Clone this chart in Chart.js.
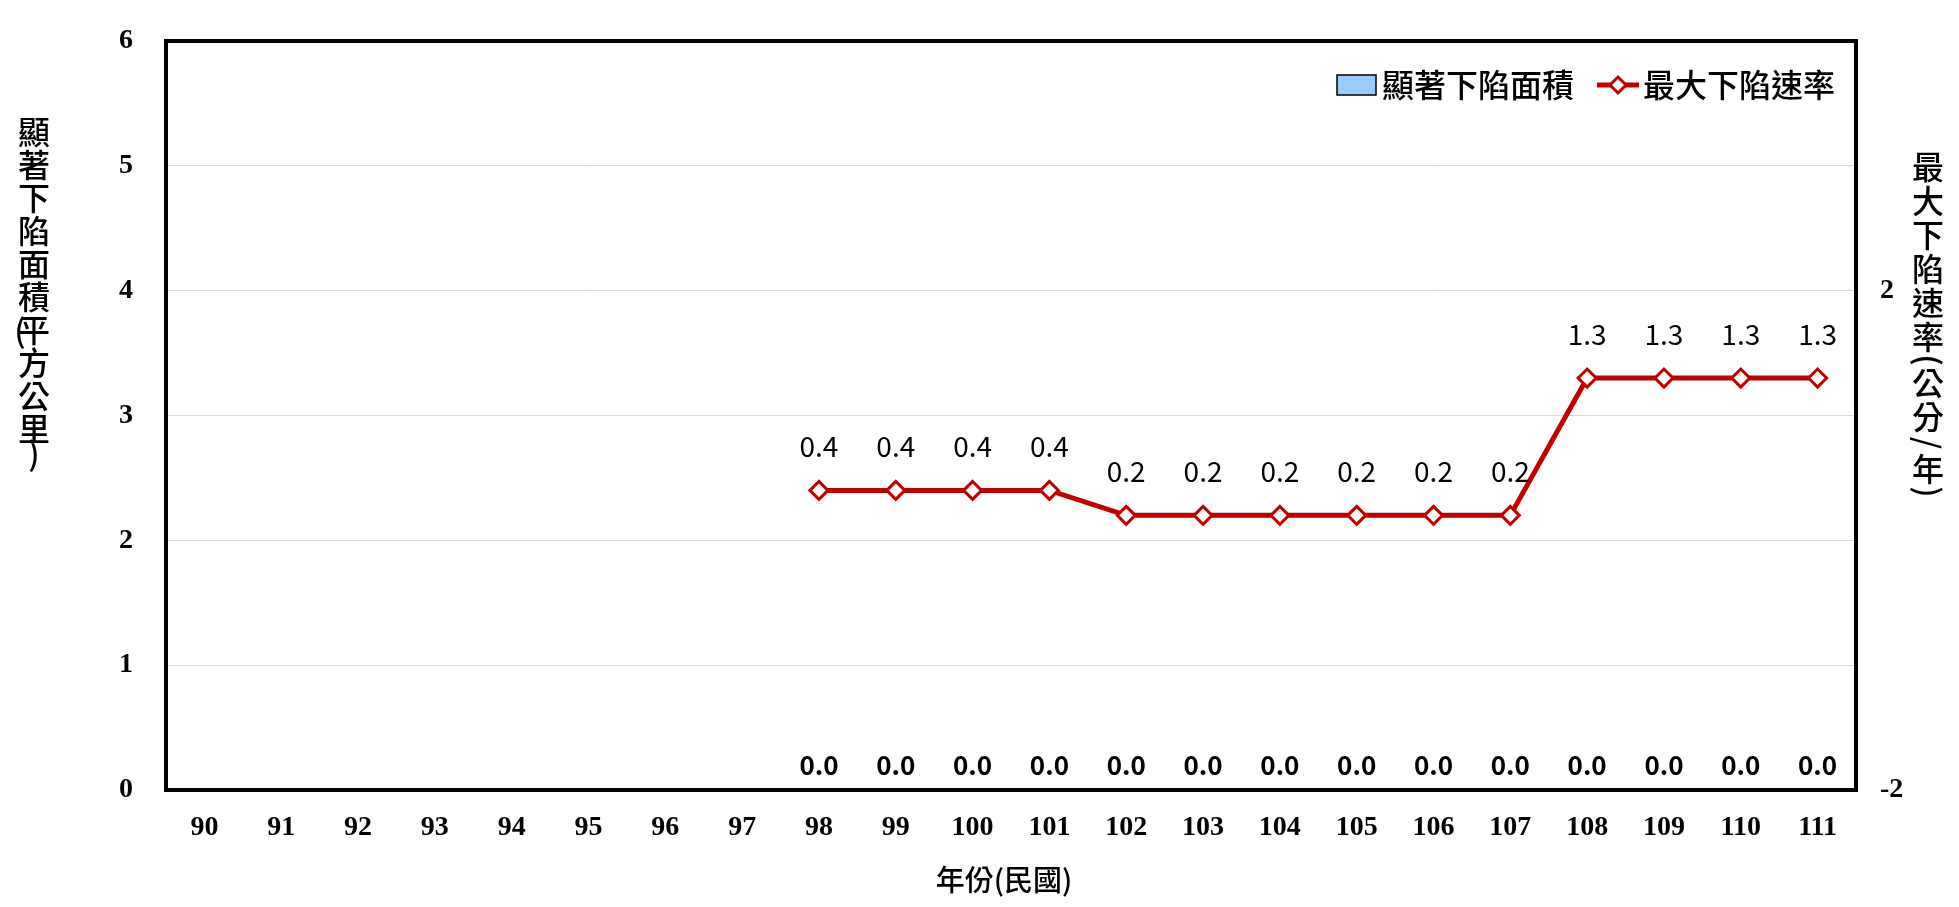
<!DOCTYPE html>
<html>
<head>
<meta charset="utf-8">
<script src="https://cdn.jsdelivr.net/npm/chart.js@4.4.1/dist/chart.umd.min.js"></script>
<style>
  body { margin: 0; background: #fff; }
</style>
</head>
<body>
<canvas id="subsidenceChart" width="1959" height="907"></canvas>
<script>
const years = ['90', '91', '92', '93', '94', '95', '96', '97', '98', '99', '100',
    '101', '102', '103', '104', '105', '106', '107', '108', '109', '110', '111'];
const areaValues = [null, null, null, null, null, null, null, null,
    0, 0, 0, 0, 0, 0, 0, 0, 0, 0, 0, 0, 0, 0];
const rateValues = [null, null, null, null, null, null, null, null,
    0.4, 0.4, 0.4, 0.4, 0.2, 0.2, 0.2, 0.2, 0.2, 0.2, 1.3, 1.3, 1.3, 1.3];
const rightTicks = [-2, 2];

const CJK = '"Noto Sans CJK TC", "Noto Sans CJK SC", sans-serif';
const RED = '#C00000';
const BLUE = '#99CCFF';

// draws characters stacked top to bottom; parts = [char, advance, rotated, dx, dy]
function drawVertical(ctx, x, top, parts, size) {
    ctx.save();
    ctx.font = '500 ' + size + 'px ' + CJK;
    ctx.fillStyle = '#000';
    ctx.textAlign = 'center';
    ctx.textBaseline = 'middle';
    let y = top;
    parts.forEach(([ch, adv, rot, dx = 0, dy = 0]) => {
        const cy = y + adv / 2 + dy;
        if (rot) {
            ctx.save();
            ctx.translate(x + dx, cy);
            ctx.rotate(Math.PI / 2);
            ctx.fillText(ch, 0, 0);
            ctx.restore();
        } else {
            ctx.fillText(ch, x + dx, cy);
        }
        y += adv;
    });
    ctx.restore();
}

const decorations = {
    id: 'decorations',
    afterDatasetsDraw(chart) {
        const ctx = chart.ctx;
        const area = chart.chartArea;

        // value labels
        chart.data.datasets.forEach((ds, i) => {
            const meta = chart.getDatasetMeta(i);
            meta.data.forEach((el, j) => {
                const v = ds.data[j];
                if (v === null || v === undefined) return;
                ctx.save();
                ctx.fillStyle = '#000';
                ctx.textAlign = 'center';
                ctx.textBaseline = 'alphabetic';
                if (ds.type === 'bar') {
                    ctx.font = 'bold 26px ' + CJK;
                    ctx.fillText(v.toFixed(1), el.x, el.y - 15);
                } else {
                    ctx.font = '28px ' + CJK;
                    ctx.fillText(v.toFixed(1), el.x, el.y - 33);
                }
                ctx.restore();
            });
        });

        // plot frame
        ctx.save();
        ctx.strokeStyle = '#000';
        ctx.lineWidth = 4;
        ctx.strokeRect(area.left, area.top, area.right - area.left, area.bottom - area.top);
        ctx.restore();

        // legend
        ctx.save();
        ctx.fillStyle = BLUE;
        ctx.fillRect(1337, 75, 39, 20);
        ctx.strokeStyle = '#000';
        ctx.lineWidth = 1.5;
        ctx.strokeRect(1337, 75, 39, 20);
        ctx.font = '500 32px ' + CJK;
        ctx.fillStyle = '#000';
        ctx.textBaseline = 'middle';
        ctx.fillText('顯著下陷面積', 1382, 85);
        ctx.strokeStyle = RED;
        ctx.lineWidth = 5;
        ctx.beginPath();
        ctx.moveTo(1597, 85);
        ctx.lineTo(1639, 85);
        ctx.stroke();
        ctx.beginPath();
        ctx.moveTo(1618 - 8, 85);
        ctx.lineTo(1618, 85 - 8);
        ctx.lineTo(1618 + 8, 85);
        ctx.lineTo(1618, 85 + 8);
        ctx.closePath();
        ctx.fillStyle = '#fff';
        ctx.fill();
        ctx.lineWidth = 3;
        ctx.stroke();
        ctx.fillStyle = '#000';
        ctx.fillText('最大下陷速率', 1643, 85);
        ctx.restore();

        // axis titles
        drawVertical(ctx, 34, 115, [
            ['顯', 33], ['著', 33], ['下', 33], ['陷', 33], ['面', 33], ['積', 33],
            ['(', 0, false, -14, 18], ['平', 33], ['方', 33], ['公', 33], ['里', 33], [')', 18]
        ], 32);
        drawVertical(ctx, 1928, 150, [
            ['最', 34], ['大', 34], ['下', 34], ['陷', 34], ['速', 34], ['率', 34],
            ['(', 12, true], ['公', 34], ['分', 34], ['/', 18, true], ['年', 34], [')', 12, true]
        ], 32);

        ctx.save();
        ctx.font = '500 29px ' + CJK;
        ctx.fillStyle = '#000';
        ctx.textAlign = 'center';
        ctx.textBaseline = 'middle';
        ctx.fillText('年份(民國)', 1004, 880);
        ctx.restore();
    }
};

const tickFont = { family: '"Liberation Serif", "Times New Roman", serif', size: 28, weight: 'bold' };

function fixVertical(width) {
    return function (scale) {
        scale.width = width;
        scale.paddingTop = 0;
        scale.paddingBottom = 0;
    };
}

new Chart(document.getElementById('subsidenceChart'), {
    data: {
        labels: years,
        datasets: [{
            type: 'line',
            label: '最大下陷速率',
            data: rateValues,
            yAxisID: 'y1',
            borderColor: RED,
            borderWidth: 5,
            pointStyle: 'rectRot',
            pointRadius: 9,
            pointBackgroundColor: '#fff',
            pointBorderColor: RED,
            pointBorderWidth: 3,
            tension: 0,
            order: 1
        }, {
            type: 'bar',
            label: '顯著下陷面積',
            data: areaValues,
            yAxisID: 'y',
            backgroundColor: BLUE,
            borderColor: '#000',
            borderWidth: 1,
            order: 2
        }]
    },
    options: {
        responsive: false,
        animation: false,
        layout: { padding: { top: 41, left: 0, right: 0, bottom: 0 } },
        plugins: {
            legend: { display: false },
            tooltip: { enabled: false }
        },
        scales: {
            x: {
                offset: true,
                grid: { display: false },
                border: { display: false },
                ticks: { font: tickFont, color: '#000', padding: 13, maxRotation: 0, autoSkip: false },
                afterFit(scale) {
                    scale.height = 117;
                    scale.paddingLeft = 0;
                    scale.paddingRight = 0;
                }
            },
            y: {
                position: 'left',
                min: 0,
                max: 6,
                ticks: { stepSize: 1, font: tickFont, color: '#000', padding: 33 },
                grid: { color: '#d9d9d9', lineWidth: 1, drawTicks: false },
                border: { display: false },
                afterFit: fixVertical(166)
            },
            y1: {
                position: 'right',
                min: -2,
                max: 4,
                ticks: { font: tickFont, color: '#000', padding: 24 },
                grid: { display: false, drawTicks: false },
                border: { display: false },
                afterBuildTicks(scale) { scale.ticks = rightTicks.map(v => ({ value: v })); },
                afterFit: fixVertical(103)
            }
        }
    },
    plugins: [decorations]
});
</script>
</body>
</html>
